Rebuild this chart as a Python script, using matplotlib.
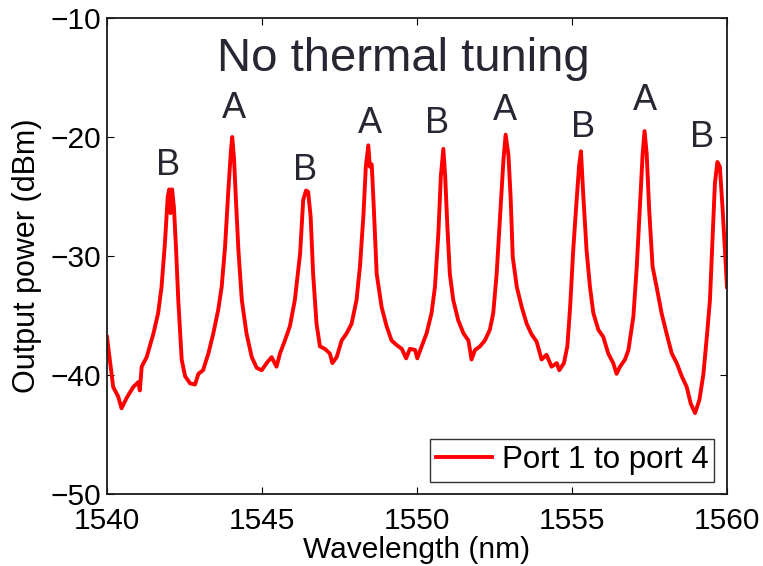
import matplotlib
matplotlib.use("Agg")
import matplotlib.pyplot as plt

# Transmission spectrum, port 1 -> port 4 (wavelength in nm, power in dBm)
wavelength = [
    1540.00, 1540.20, 1540.36, 1540.47, 1540.64, 1540.85, 1541.01, 1541.06, 1541.12, 1541.28,
    1541.50, 1541.65, 1541.76, 1541.87, 1541.96, 1542.01, 1542.05, 1542.10, 1542.16, 1542.23,
    1542.30, 1542.41, 1542.52, 1542.68, 1542.84, 1542.95, 1543.10, 1543.27, 1543.43, 1543.59,
    1543.70, 1543.81, 1543.91, 1544.00, 1544.04, 1544.10, 1544.16, 1544.24, 1544.35, 1544.50,
    1544.67, 1544.83, 1544.99, 1545.15, 1545.31, 1545.47, 1545.58, 1545.74, 1545.90, 1546.06,
    1546.23, 1546.33, 1546.42, 1546.49, 1546.57, 1546.65, 1546.76, 1546.87, 1547.03, 1547.19,
    1547.27, 1547.41, 1547.57, 1547.73, 1547.89, 1548.05, 1548.16, 1548.27, 1548.35, 1548.43,
    1548.48, 1548.54, 1548.61, 1548.70, 1548.86, 1549.02, 1549.18, 1549.35, 1549.51, 1549.65,
    1549.77, 1549.94, 1550.01, 1550.15, 1550.31, 1550.47, 1550.58, 1550.69, 1550.77, 1550.85,
    1550.91, 1550.98, 1551.06, 1551.17, 1551.33, 1551.50, 1551.66, 1551.76, 1551.87, 1552.03,
    1552.19, 1552.35, 1552.46, 1552.57, 1552.68, 1552.79, 1552.86, 1552.95, 1553.02, 1553.09,
    1553.22, 1553.38, 1553.54, 1553.70, 1553.86, 1554.02, 1554.18, 1554.34, 1554.51, 1554.59,
    1554.74, 1554.85, 1554.94, 1555.04, 1555.15, 1555.23, 1555.29, 1555.36, 1555.47, 1555.58,
    1555.69, 1555.85, 1556.01, 1556.17, 1556.33, 1556.44, 1556.55, 1556.71, 1556.82, 1556.98,
    1557.09, 1557.19, 1557.28, 1557.34, 1557.41, 1557.49, 1557.60, 1557.73, 1557.89, 1558.05,
    1558.22, 1558.38, 1558.54, 1558.70, 1558.83, 1558.97, 1559.11, 1559.24, 1559.36, 1559.45,
    1559.54, 1559.61, 1559.69, 1559.77, 1559.86, 1559.94, 1560.00,
]
power_dbm = [
    -36.8, -41.0, -41.8, -42.8, -41.9, -41.0, -40.6, -41.3, -39.3, -38.5,
    -36.5, -34.8, -32.6, -28.9, -25.0, -24.4, -26.4, -24.4, -25.9, -29.5,
    -33.7, -38.7, -40.1, -40.7, -40.8, -39.9, -39.6, -38.2, -36.5, -34.5,
    -32.6, -29.2, -24.7, -21.1, -20.0, -21.9, -25.3, -29.5, -33.7, -36.5,
    -38.5, -39.4, -39.6, -39.0, -38.5, -39.3, -38.2, -37.1, -35.9, -33.7,
    -29.8, -25.3, -24.5, -24.6, -26.7, -31.5, -35.7, -37.6, -37.8, -38.2,
    -39.0, -38.5, -37.1, -36.5, -35.7, -33.7, -30.9, -26.7, -22.5, -20.7,
    -22.5, -22.3, -26.1, -31.5, -34.3, -35.9, -37.1, -37.5, -37.8, -38.6,
    -37.8, -37.9, -38.6, -37.6, -36.5, -34.8, -32.6, -28.1, -23.3, -21.0,
    -23.3, -27.5, -31.5, -33.7, -35.4, -36.5, -37.1, -38.7, -37.9, -37.6,
    -37.1, -36.2, -34.8, -31.5, -26.7, -21.9, -19.8, -21.5, -25.0, -30.1,
    -32.6, -34.3, -35.7, -36.6, -37.2, -38.7, -38.3, -39.3, -39.0, -39.6,
    -39.0, -37.6, -34.3, -29.5, -25.3, -22.4, -21.2, -24.7, -29.5, -32.6,
    -34.8, -36.2, -36.8, -38.2, -39.0, -39.9, -39.3, -38.7, -37.9, -35.1,
    -30.9, -25.9, -21.4, -19.5, -21.4, -26.1, -30.9, -32.6, -34.8, -36.5,
    -38.2, -39.0, -40.1, -41.0, -42.4, -43.2, -42.1, -39.9, -36.5, -33.7,
    -28.1, -23.9, -22.1, -22.5, -26.1, -29.8, -32.6,
]

# Resonance labels and their anchor points (baseline of each letter)
peak_names = ["B", "A", "B", "A", "B", "A", "B", "A", "B"]
peak_label_x = [1541.97, 1544.10, 1546.40, 1548.48, 1550.65, 1552.84, 1555.35, 1557.35, 1559.19]
peak_label_y = [-23.2, -18.4, -23.6, -19.7, -19.7, -18.6, -20.0, -17.7, -20.8]

x_ticks = [1540, 1545, 1550, 1555, 1560]
y_ticks = [-50, -40, -30, -20, -10]

plt.rcParams["font.family"] = ["Liberation Sans", "DejaVu Sans"]

fig = plt.figure(figsize=(7.63, 5.66), dpi=100)
ax = fig.add_axes([0.1402, 0.1272, 0.8126, 0.8410])

ax.plot(wavelength, power_dbm, color="#ff0000", linewidth=2.8,
        solid_joinstyle="round", label="Port 1 to port 4")

ax.set_xlim(1540, 1560)
ax.set_ylim(-50, -10)
ax.set_xticks(x_ticks)
ax.set_yticks(y_ticks)
ax.set_xticklabels([str(t) for t in x_ticks])
ax.set_yticklabels(["\u2212" + str(abs(t)) for t in y_ticks])
ax.tick_params(direction="in", length=5, width=0.8, top=True, right=True,
               labelsize=21.5, colors="black")
ax.tick_params(axis="x", pad=9)
ax.tick_params(axis="y", pad=4)
for side in ax.spines.values():
    side.set_linewidth(1.3)
    side.set_color("#1a1a1a")

ax.set_xlabel("Wavelength (nm)", fontsize=21.5, labelpad=1)
ax.set_ylabel("Output power (dBm)", fontsize=22, labelpad=6)

text_color = "#272733"
ax.text(1549.55, -14.43, "No thermal tuning", fontsize=34, color=text_color,
        ha="center", va="baseline")
for name, lx, ly in zip(peak_names, peak_label_x, peak_label_y):
    ax.text(lx, ly, name, fontsize=26, color=text_color, ha="center", va="baseline")

leg = ax.legend(loc="lower right", fontsize=22.5, frameon=True, fancybox=False,
                edgecolor="black", handlelength=1.8, handletextpad=0.3,
                borderpad=0.2, borderaxespad=0.4)
leg.get_frame().set_linewidth(1.0)

fig.savefig("out.png", dpi=100)
